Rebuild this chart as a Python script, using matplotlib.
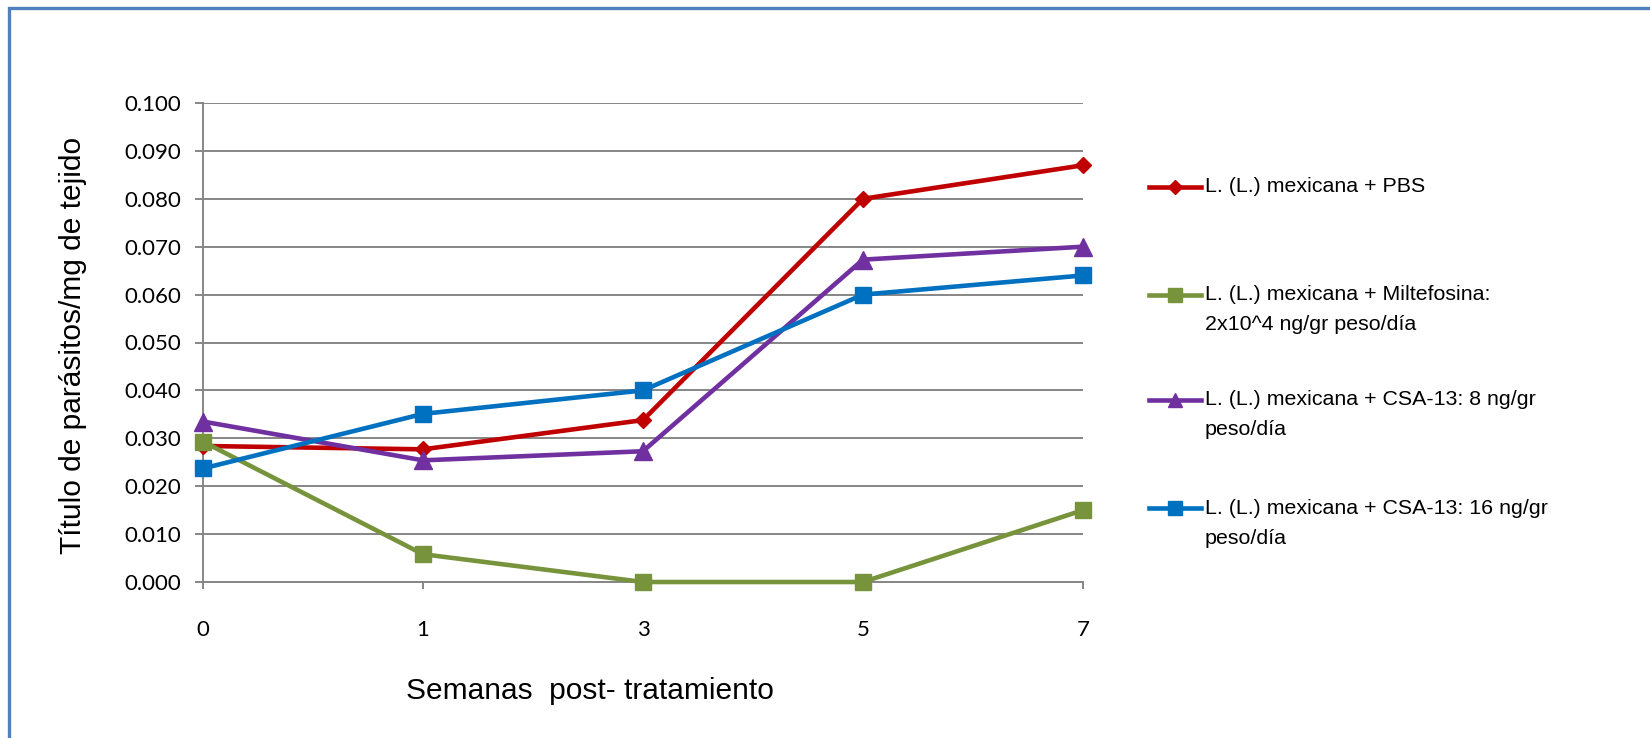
import matplotlib
matplotlib.use("Agg")
import matplotlib.pyplot as plt
from matplotlib.lines import Line2D
from matplotlib.patches import Rectangle

# Weeks after treatment (categorical axis)
weeks = ["0", "1", "3", "5", "7"]

# Parasite titre per mg of tissue
pbs = [0.0284, 0.0277, 0.0338, 0.0800, 0.0870]
miltefosina = [0.0293, 0.0058, 0.0000, 0.0000, 0.0150]
csa13_8 = [0.0335, 0.0254, 0.0273, 0.0673, 0.0700]
csa13_16 = [0.0237, 0.0351, 0.0400, 0.0600, 0.0640]

series_labels = [
    "L. (L.) mexicana + PBS",
    "L. (L.) mexicana + Miltefosina:\n2x10^4 ng/gr peso/día",
    "L. (L.) mexicana + CSA-13: 8 ng/gr\npeso/día",
    "L. (L.) mexicana + CSA-13: 16 ng/gr\npeso/día",
]
series_values = [pbs, miltefosina, csa13_8, csa13_16]
colors = ["#C00000", "#77933C", "#7030A0", "#0070C0"]
markers = ["D", "s", "^", "s"]
msizes = [8.4, 11.5, 12.5, 11.5]

W, H = 1650, 738
fig = plt.figure(figsize=(W / 100, H / 100), dpi=100)
fig.patch.set_facecolor("white")

def fx(px):
    return px / W

def fy(py):
    return 1 - py / H

ax = fig.add_axes([fx(203), fy(582), fx(1083) - fx(203), fy(103) - fy(582)])

x = list(range(len(weeks)))
for vals, c, m, ms in zip(series_values, colors, markers, msizes):
    ax.plot(x, vals, color=c, lw=3.3, marker=m, ms=ms, mfc=c, mec=c,
            solid_joinstyle="round", clip_on=False, zorder=3)

grid_c = "#868686"
ax.set_xlim(0, len(weeks) - 1)
ax.set_ylim(0, 0.1)
yt = [i / 100 for i in range(11)]
ax.set_yticks(yt)
ax.set_yticklabels([f"{v:.3f}" for v in yt])
ax.set_xticks(x)
ax.set_xticklabels(weeks)
ax.yaxis.grid(True, color=grid_c, lw=1.4)
ax.set_axisbelow(True)
for s in ["top", "right"]:
    ax.spines[s].set_visible(False)
for s in ["left", "bottom"]:
    ax.spines[s].set_color(grid_c)
    ax.spines[s].set_linewidth(1.4)
ax.tick_params(axis="y", length=6, width=1.4, color=grid_c, pad=10,
               labelsize=16, labelfontfamily="Lato")
ax.tick_params(axis="x", length=5, width=1.4, color=grid_c, pad=22,
               labelsize=16, labelfontfamily="Lato")

# Axis titles
fig.text(fx(590), fy(691), "Semanas  post- tratamiento", ha="center", va="center",
         fontsize=21.5, family="Liberation Sans")
fig.text(fx(73), fy(345), "Título de parásitos/mg de tejido", ha="center", va="center",
         rotation=90, fontsize=21.5, family="Liberation Sans")

# Legend entries
first_line_y = [187, 295, 400, 508]
line_gap = 30
for lab, c, m, ms, y0 in zip(series_labels, colors, markers, msizes, first_line_y):
    fig.add_artist(Line2D([fx(1149), fx(1175), fx(1201)], [fy(y0)] * 3, color=c, lw=3.3,
                          marker=m, ms=ms * 0.85, markevery=[1], mfc=c, mec=c,
                          transform=fig.transFigure))
    for k, part in enumerate(lab.split("\n")):
        fig.text(fx(1205), fy(y0 + k * line_gap), part, ha="left", va="center",
                 fontsize=15.4, family="Liberation Sans")

# Outer chart border
fig.add_artist(Rectangle((fx(9), -0.2), 2.0, fy(7.5) + 0.2, transform=fig.transFigure,
                         fill=False, ec="#4F81BD", lw=2.4))

fig.savefig("out.png", dpi=100, facecolor="white")
